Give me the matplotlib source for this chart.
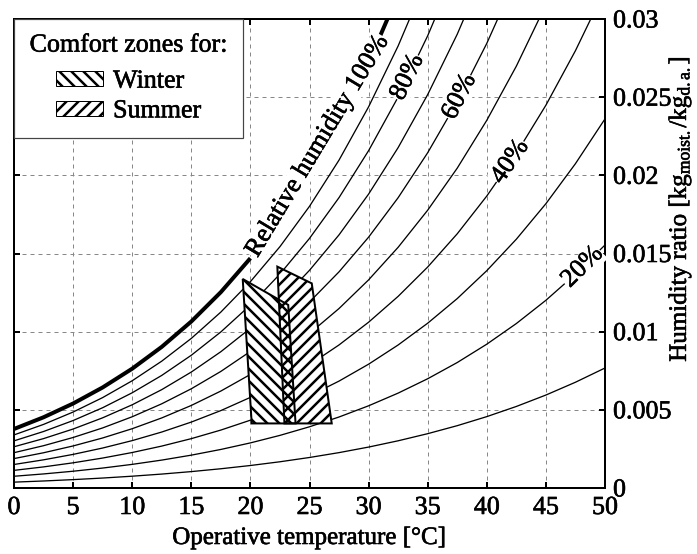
import numpy as np
import matplotlib.pyplot as plt
import matplotlib.patheffects as pe
from matplotlib.patches import Polygon, Patch

plt.rcParams['font.family'] = ['Liberation Serif', 'DejaVu Serif']
plt.rcParams['mathtext.fontset'] = 'custom'
plt.rcParams['mathtext.rm'] = 'Liberation Serif'
plt.rcParams['mathtext.it'] = 'Liberation Serif:italic'
plt.rcParams['hatch.linewidth'] = 2.5

# operative temperature grid [°C]
temps = [0, 2.5, 5, 7.5, 10, 12.5, 15, 17.5, 20, 22.5, 25,
         27.5, 30, 32.5, 35, 37.5, 40, 42.5, 45, 47.5, 50]

# humidity ratio [kg/kg] along each relative humidity line
rh10 = [0.000375, 0.000449, 0.000536, 0.000637, 0.000755, 0.000891, 0.001049,
        0.001231, 0.001439, 0.001678, 0.001952, 0.002263, 0.002618, 0.003020,
        0.003475, 0.003987, 0.004566, 0.005216, 0.005946, 0.006765, 0.007676]
rh20 = [0.000751, 0.000900, 0.001073, 0.001276, 0.001512, 0.001785, 0.002101,
        0.002466, 0.002885, 0.003366, 0.003916, 0.004542, 0.005258, 0.006070,
        0.006989, 0.008026, 0.009200, 0.010520, 0.012007, 0.013679, 0.015544]
rh30 = [0.001128, 0.001350, 0.001611, 0.001916, 0.002270, 0.002681, 0.003157,
        0.003706, 0.004338, 0.005062, 0.005893, 0.006839, 0.007920, 0.009149,
        0.010542, 0.012117, 0.013903, 0.015915, 0.018186, 0.020747, 0.023611]
rh40 = [0.001504, 0.001802, 0.002150, 0.002557, 0.003031, 0.003580, 0.004217,
        0.004952, 0.005797, 0.006768, 0.007882, 0.009152, 0.010605, 0.012259,
        0.014136, 0.016262, 0.018677, 0.021402, 0.024486, 0.027974, 0.031885]
rh50 = [0.001882, 0.002254, 0.002690, 0.003200, 0.003793, 0.004482, 0.005280,
        0.006202, 0.007264, 0.008483, 0.009883, 0.011482, 0.013313, 0.015399,
        0.017771, 0.020461, 0.023522, 0.026985, 0.030912]
rh60 = [0.002259, 0.002706, 0.003231, 0.003843, 0.004557, 0.005386, 0.006347,
        0.007457, 0.008737, 0.010207, 0.011898, 0.013829, 0.016045, 0.018571,
        0.021448, 0.024716, 0.028442, 0.032666]
rh70 = [0.002638, 0.003160, 0.003772, 0.004489, 0.005323, 0.006292, 0.007417,
        0.008718, 0.010217, 0.011941, 0.013925, 0.016194, 0.018800, 0.021775,
        0.025167, 0.029028, 0.033437]
rh80 = [0.003016, 0.003614, 0.004315, 0.005135, 0.006091, 0.007202, 0.008491,
        0.009983, 0.011704, 0.013685, 0.015966, 0.018577, 0.021579, 0.025011,
        0.028929, 0.033397]
rh90 = [0.003395, 0.004068, 0.004859, 0.005783, 0.006860, 0.008114, 0.009569,
        0.011254, 0.013198, 0.015438, 0.018019, 0.020977, 0.024382, 0.028279,
        0.032736]
rh100 = [0.003775, 0.004524, 0.005403, 0.006432, 0.007632, 0.009028, 0.010650,
         0.012529, 0.014699, 0.017201, 0.020086, 0.023395, 0.027210, 0.031581]

rh_levels = [10, 20, 30, 40, 50, 60, 70, 80, 90]
rh_lines = [rh10, rh20, rh30, rh40, rh50, rh60, rh70, rh80, rh90]

# where the percentage labels sit (temperature along the line)
label_temps = {80: 33.3, 60: 37.7, 40: 42.0, 20: 48.1}

# comfort zones (temperature, humidity ratio corners)
winter_t = [19.35, 23.2, 23.82, 20.11]
winter_w = [0.01337, 0.01171, 0.00413, 0.00413]
summer_t = [22.28, 25.19, 26.88, 22.88]
summer_w = [0.01416, 0.01309, 0.00413, 0.00413]

xticks = [0, 5, 10, 15, 20, 25, 30, 35, 40, 45, 50]
yticks = [0, 0.005, 0.01, 0.015, 0.02, 0.025, 0.03]
ytick_labels = ['0', '0.005', '0.01', '0.015', '0.02', '0.025', '0.03']

# slightly heavier glyphs for all the text
heavy = [pe.withStroke(linewidth=0.6, foreground='black')]

fig = plt.figure(figsize=(697 / 72, 554 / 72), dpi=72)
ax = fig.add_axes([14 / 697, 66 / 554, 591 / 697, 469 / 554])
ax.set_xlim(0, 50)
ax.set_ylim(0, 0.03)

ax.grid(True, color='#888888', linestyle=(0, (4, 4)), linewidth=1)
ax.set_axisbelow(True)


def angle_at(t, line):
    """Screen angle of a humidity line at temperature t."""
    tt = temps[:len(line)]
    i = max(0, min(len(tt) - 2, np.searchsorted(tt, t) - 1))
    p1 = ax.transData.transform((tt[i], line[i]))
    p2 = ax.transData.transform((tt[i + 1], line[i + 1]))
    return np.degrees(np.arctan2(p2[1] - p1[1], p2[0] - p1[0]))


for rh, line in zip(rh_levels, rh_lines):
    ax.plot(temps[:len(line)], line, color='black', linewidth=1.3, zorder=2)

# saturation line, broken where its label runs
ax.plot(temps[:9], rh100[:9], color='black', linewidth=4, zorder=2,
        solid_capstyle='butt')
ax.plot(temps[12:14], rh100[12:14], color='black', linewidth=4, zorder=2,
        solid_capstyle='butt')

p_a = ax.transData.transform((20, rh100[8]))
p_b = ax.transData.transform((31.4, 0.0290))
sat_angle = np.degrees(np.arctan2(p_b[1] - p_a[1], p_b[0] - p_a[0]))
ax.text(25.7, (rh100[8] + 0.0290) / 2, 'Relative humidity 100%', fontsize=26,
        rotation=sat_angle, rotation_mode='anchor', ha='center', va='center',
        zorder=3, bbox=dict(facecolor='white', edgecolor='none', pad=1),
        path_effects=heavy)

for rh, t in label_temps.items():
    line = rh_lines[rh_levels.index(rh)]
    w = np.interp(t, temps[:len(line)], line)
    ax.text(t, w, f'{rh}%', fontsize=26, rotation=angle_at(t, line),
            rotation_mode='anchor', ha='center', va='center', zorder=3,
            bbox=dict(facecolor='white', edgecolor='none', pad=0.5),
            path_effects=heavy)

# comfort zones: white fill first, then the hatching on top
for zt, zw in [(winter_t, winter_w), (summer_t, summer_w)]:
    ax.add_patch(Polygon(list(zip(zt, zw)), closed=True, facecolor='white',
                         edgecolor='none', zorder=4))
ax.add_patch(Polygon(list(zip(winter_t, winter_w)), closed=True,
                     facecolor='none', edgecolor='black', hatch='\\\\',
                     linewidth=2, zorder=5))
ax.add_patch(Polygon(list(zip(summer_t, summer_w)), closed=True,
                     facecolor='none', edgecolor='black', hatch='//',
                     linewidth=2, zorder=5))

ax.set_xticks(xticks)
ax.set_yticks(yticks)
ax.set_yticklabels(ytick_labels)
ax.yaxis.tick_right()
ax.tick_params(which='both', direction='in', top=True, bottom=True,
               left=True, right=True, labelleft=False, labelright=True,
               length=6, width=2, labelsize=26)
ax.tick_params(axis='x', pad=9)
ax.tick_params(axis='y', pad=8)
for s in ax.spines.values():
    s.set_linewidth(2)
for lbl in ax.get_xticklabels() + ax.get_yticklabels():
    lbl.set_path_effects(heavy)

ax.set_xlabel('Operative temperature [°C]', fontsize=25, labelpad=8,
              path_effects=heavy)
ax.yaxis.set_label_position('right')
ax.set_ylabel('Humidity ratio [kg$_\\mathrm{moist.}$/kg$_\\mathrm{d.a.}$]',
              fontsize=25, path_effects=heavy)
ax.yaxis.set_label_coords(1.105, 0.595)

handles = [Patch(facecolor='white', edgecolor='black', hatch='\\\\', label='Winter'),
           Patch(facecolor='white', edgecolor='black', hatch='//', label='Summer')]
leg = ax.legend(handles=handles, title='Comfort zones for:', loc='upper left',
                bbox_to_anchor=(0, 1), borderaxespad=0, fontsize=26,
                title_fontsize=26, fancybox=False, framealpha=1,
                edgecolor='#444444', handlelength=1.8, handleheight=0.5,
                labelspacing=0.3, handletextpad=0.4, borderpad=0.6)
leg.get_frame().set_linewidth(1.2)
leg.set_zorder(10)
leg._legend_box.sep = 14  # a little more room under the title
for txt in leg.get_texts() + [leg.get_title()]:
    txt.set_path_effects(heavy)

fig.savefig('out.png', dpi=72)
